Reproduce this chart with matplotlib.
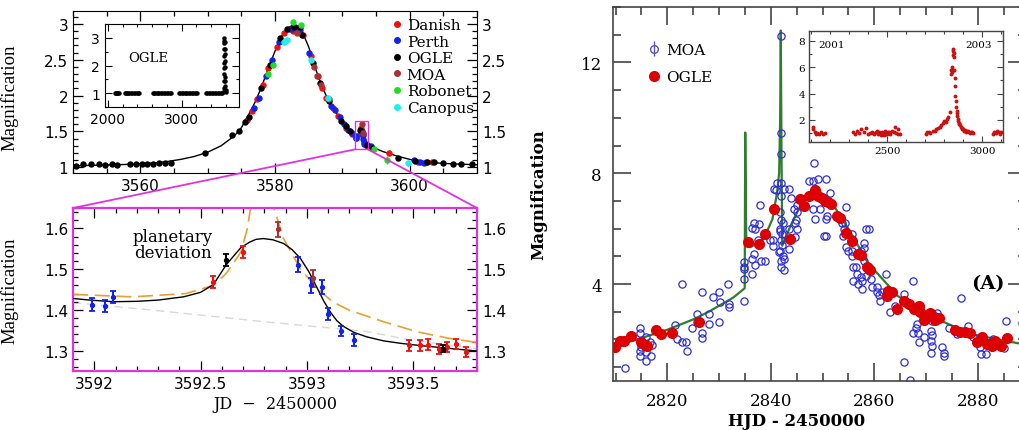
import matplotlib
matplotlib.use("Agg")
import matplotlib.pyplot as plt
from matplotlib.patches import Rectangle, ConnectionPatch
from matplotlib.lines import Line2D
from matplotlib.ticker import MultipleLocator

# ======================= DATA: left panels (JD - 2450000) =======================
danish_t = [3575.8, 3576.6, 3577.3, 3578.2, 3579.0, 3580.3, 3581.4, 3582.1, 3582.6, 3583.4,
            3584.2, 3585.4, 3586.4, 3587.0, 3587.6, 3588.6, 3589.4, 3590.6, 3591.5, 3592.56,
            3592.70, 3593.48, 3593.53, 3593.57, 3593.62, 3593.66, 3593.70, 3593.75, 3596.9,
            3601.2, 3602.4, 3603.3]
danish_A = [1.66, 1.78, 1.95, 2.15, 2.38, 2.68, 2.87, 2.93, 2.90, 2.93,
            2.85, 2.55, 2.28, 2.10, 1.97, 1.82, 1.72, 1.55, 1.46, 1.469,
            1.542, 1.313, 1.313, 1.315, 1.304, 1.309, 1.316, 1.297, 1.20,
            1.08, 1.07, 1.07]
danish_e = [0.02] * 19 + [0.015, 0.015] + [0.013] * 7 + [0.04, 0.02, 0.02, 0.02]

perth_t = [3576.9, 3577.6, 3578.6, 3579.6, 3580.6, 3582.4, 3583.0, 3583.7, 3585.1, 3588.3,
           3588.9, 3589.6, 3590.3, 3590.9, 3591.4, 3591.99, 3592.05, 3592.09, 3592.96, 3593.02,
           3593.07, 3593.10, 3593.16, 3593.22, 3594.2, 3600.6, 3601.6, 3602.2]
perth_A = [1.82, 1.97, 2.28, 2.50, 2.75, 2.93, 2.95, 2.92, 2.60, 1.86,
           1.80, 1.70, 1.60, 1.52, 1.48, 1.413, 1.410, 1.432, 1.511, 1.460,
           1.456, 1.389, 1.348, 1.326, 1.29, 1.10, 1.08, 1.06]
perth_e = [0.02] * 15 + [0.015, 0.015, 0.015, 0.018, 0.018, 0.018, 0.015, 0.012, 0.015] + [0.02] * 4

ogle_t = [3550.5, 3551.5, 3552.6, 3553.8, 3554.8, 3555.8, 3556.6, 3558.5, 3559.3, 3560.3,
          3561.0, 3561.9, 3562.7, 3563.7, 3564.6, 3569.6, 3573.6, 3574.6, 3575.6, 3576.2,
          3577.9, 3579.2, 3580.8, 3581.8, 3582.8, 3583.7, 3584.0, 3585.7, 3586.7, 3588.0,
          3589.8, 3590.5, 3591.2, 3592.62, 3593.64, 3594.4, 3598.3, 3600.8, 3602.6, 3603.6,
          3604.9, 3606.4, 3607.6, 3609.3]
ogle_A = [1.02, 1.04, 1.04, 1.04, 1.03, 1.04, 1.03, 1.04, 1.05, 1.05,
          1.05, 1.05, 1.06, 1.06, 1.06, 1.20, 1.45, 1.51, 1.63, 1.70,
          2.10, 2.42, 2.80, 2.93, 2.96, 2.95, 2.85, 2.45, 2.18, 1.92,
          1.65, 1.58, 1.50, 1.522, 1.305, 1.27, 1.13, 1.09, 1.07, 1.07,
          1.06, 1.04, 1.05, 1.04]
ogle_e = [0.01] * 33 + [0.015, 0.008] + [0.01] * 9

moa_t = [3583.2, 3585.8, 3586.3, 3586.9, 3588.0, 3592.866, 3593.03]
moa_A = [2.88, 2.40, 2.28, 2.15, 1.95, 1.598, 1.477]
moa_e = [0.03, 0.03, 0.03, 0.03, 0.04, 0.018, 0.02]

robonet_t = [3578.9, 3579.7, 3582.7, 3583.8, 3594.7, 3596.6]
robonet_A = [2.30, 2.42, 3.02, 2.98, 1.25, 1.10]
robonet_e = [0.03, 0.03, 0.03, 0.03, 0.03, 0.06]

canopus_t = [3581.4, 3581.8, 3585.4, 3587.9, 3599.8]
canopus_A = [2.75, 2.78, 2.50, 1.97, 1.06]
canopus_e = [0.05, 0.04, 0.04, 0.04, 0.04]

# planetary model (black)
model_t = [3550, 3552, 3555, 3558, 3560, 3562, 3564, 3566, 3568, 3570, 3572, 3574, 3575,
           3576, 3577, 3578, 3579, 3580, 3581, 3582, 3582.8, 3583.6, 3584, 3585, 3586,
           3587, 3588, 3589, 3590, 3591, 3591.5, 3591.9, 3591.98, 3592.09, 3592.2, 3592.3,
           3592.42, 3592.5, 3592.56, 3592.62, 3592.66, 3592.69, 3592.73, 3592.76, 3592.795,
           3592.84, 3592.89, 3592.93, 3592.97, 3593.01, 3593.05, 3593.08, 3593.11, 3593.14,
           3593.17, 3593.22, 3593.28, 3593.36, 3593.44, 3593.54, 3593.64, 3593.72, 3593.8,
           3594.5, 3595, 3596, 3597, 3598, 3600, 3602, 3604, 3607, 3610]
model_A = [1.02, 1.025, 1.03, 1.04, 1.05, 1.06, 1.08, 1.11, 1.15, 1.21, 1.30, 1.44, 1.55,
           1.72, 1.90, 2.12, 2.38, 2.62, 2.83, 2.95, 2.99, 2.96, 2.90, 2.68, 2.38,
           2.12, 1.92, 1.77, 1.63, 1.52, 1.47, 1.428, 1.424, 1.420, 1.421, 1.424,
           1.432, 1.443, 1.462, 1.510, 1.535, 1.553, 1.566, 1.573, 1.575,
           1.572, 1.563, 1.548, 1.526, 1.493, 1.452, 1.421, 1.395, 1.374,
           1.360, 1.345, 1.334, 1.324, 1.318, 1.312, 1.307, 1.303, 1.299,
           1.28, 1.26, 1.22, 1.19, 1.16, 1.11, 1.08, 1.06, 1.045, 1.035]

# alternative model (orange dashed) in the zoom
alt_t = [3591.9, 3592.18, 3592.43, 3592.56, 3592.62, 3592.69, 3592.72, 3592.75, 3592.79,
         3592.82, 3592.845, 3592.89, 3592.97, 3593.05, 3593.12, 3593.2, 3593.36, 3593.52,
         3593.67, 3593.8]
alt_A = [1.438, 1.432, 1.440, 1.460, 1.489, 1.542, 1.60, 1.70, 1.75,
         1.72, 1.65, 1.575, 1.500, 1.452, 1.420, 1.399, 1.371, 1.346,
         1.330, 1.320]

# single-lens model (light grey dashed) in the zoom
single_t = [3591.9, 3592.3, 3592.78, 3593.28, 3593.5, 3593.8]
single_A = [1.418, 1.398, 1.372, 1.347, 1.325, 1.305]

zoom_x = [3591.9, 3593.8]
zoom_y = [1.25, 1.65]

# OGLE long-term light curve (top-left inset): (JD, A)
ogle_long = [(2095, 1.0), (2105, 1.01), (2115, 0.99), (2125, 1.0), (2140, 1.02), (2155, 1.0),
             (2225, 1.0), (2240, 0.99), (2255, 1.01), (2270, 1.0), (2290, 1.0), (2310, 1.02),
             (2330, 0.99), (2350, 1.0), (2370, 1.01), (2390, 1.0), (2410, 0.99), (2425, 1.0),
             (2610, 1.0), (2625, 1.01), (2645, 1.0), (2660, 0.99), (2680, 1.0), (2700, 1.02),
             (2720, 1.0), (2740, 1.0), (2760, 0.99), (2780, 1.01), (2800, 1.0), (2820, 1.0),
             (2840, 1.01), (2855, 0.99), (2965, 1.0), (2980, 1.0), (3000, 1.01), (3020, 0.99),
             (3040, 1.0), (3060, 1.0), (3080, 1.02), (3100, 1.0), (3120, 0.99), (3140, 1.0),
             (3160, 1.01), (3180, 1.0), (3200, 1.0), (3215, 0.99), (3335, 1.0), (3350, 1.01),
             (3370, 1.0), (3390, 0.99), (3410, 1.0), (3430, 1.0), (3450, 1.02), (3470, 1.0),
             (3490, 0.99), (3510, 1.0), (3530, 1.01), (3545, 1.0), (3560, 1.05), (3570, 1.2),
             (3574, 1.45), (3576, 1.7), (3577, 1.9), (3578, 2.1), (3579, 2.35), (3580, 2.6),
             (3581, 2.8), (3582, 2.9), (3583, 2.98), (3584, 2.85), (3585, 2.6), (3586, 2.4),
             (3587, 2.15), (3588, 1.95), (3590, 1.6), (3592, 1.45), (3595, 1.25), (3600, 1.1),
             (3605, 1.05)]

legend_names = ["Danish", "Perth", "OGLE", "MOA", "Robonet", "Canopus"]
legend_colors = ["#ee1111", "#1122ee", "#000000", "#a83232", "#22dd22", "#22eeee"]

# ======================= DATA: right panel (HJD - 2450000) =======================
moa_r = [(2811.8, 0.96), (2814.7, 2.43), (2814.7, 2.23), (2814.9, 1.83), (2815.0, 1.71),
         (2814.7, 1.59), (2815.9, 1.53), (2814.7, 1.41), (2815.9, 1.23), (2816.8, 1.41),
         (2816.6, 1.89), (2815.9, 2.10), (2817.0, 1.80), (2821.5, 2.52), (2821.8, 2.00),
         (2822.8, 1.89), (2823.6, 1.89), (2823.8, 1.59), (2822.8, 4.00), (2824.8, 2.43),
         (2825.7, 2.92), (2825.7, 2.62), (2826.7, 2.25), (2826.7, 2.07), (2826.7, 3.70),
         (2828.1, 2.92), (2828.1, 2.56), (2828.8, 3.52), (2830.0, 3.70), (2830.0, 2.62),
         (2830.2, 3.34), (2831.8, 4.00), (2832.0, 3.28), (2832.0, 3.16), (2834.8, 4.18),
         (2834.9, 4.54), (2834.9, 4.78), (2834.9, 3.40), (2834.8, 4.60), (2836.4, 4.36),
         (2836.4, 4.90), (2836.7, 5.08), (2838.0, 4.84), (2836.4, 6.04), (2836.7, 6.22),
         (2837.0, 5.98), (2837.7, 6.17), (2837.0, 4.70), (2838.8, 4.83), (2837.9, 6.84),
         (2837.5, 5.60), (2840.6, 7.42), (2841.2, 7.66), (2841.9, 9.46), (2842.0, 8.68),
         (2841.9, 12.95), (2842.5, 7.42), (2841.9, 7.18), (2841.7, 6.60), (2842.0, 6.30),
         (2841.8, 6.00), (2842.1, 5.80), (2841.9, 5.60), (2842.2, 5.40), (2841.8, 5.20),
         (2842.3, 5.00), (2841.9, 4.84), (2842.6, 4.90), (2842.0, 4.60), (2842.6, 4.50),
         (2840.4, 5.38), (2839.9, 5.60), (2841.5, 5.14), (2840.4, 5.60), (2841.7, 5.92),
         (2842.4, 6.22), (2843.5, 7.42), (2843.8, 7.12), (2845.1, 6.84), (2844.5, 6.70),
         (2845.1, 6.60), (2845.1, 5.98), (2844.8, 6.30), (2843.5, 5.98), (2843.5, 5.26),
         (2844.7, 6.22), (2844.7, 5.68), (2842.0, 7.66), (2841.0, 7.40), (2848.4, 8.38),
         (2847.4, 7.72), (2848.1, 7.72), (2849.1, 7.78), (2850.7, 7.78), (2848.1, 6.72),
         (2849.4, 6.72), (2850.7, 6.34), (2850.7, 5.74), (2848.6, 6.34), (2850.3, 5.74),
         (2850.9, 6.46), (2851.5, 7.30), (2854.6, 6.78), (2854.3, 6.22), (2854.0, 5.74),
         (2854.6, 5.32), (2854.9, 5.20), (2853.8, 6.22), (2854.1, 6.00), (2855.7, 5.80),
         (2855.7, 5.62), (2855.7, 5.20), (2855.6, 5.02), (2856.4, 4.60), (2856.6, 4.36),
         (2858.0, 5.30), (2858.0, 4.84), (2858.9, 6.00), (2858.9, 4.60), (2858.3, 4.30),
         (2858.0, 5.48), (2857.4, 5.20), (2857.7, 5.00), (2858.4, 5.98), (2855.8, 4.60),
         (2857.4, 4.24), (2857.7, 4.12), (2855.8, 4.12), (2856.8, 4.00), (2857.7, 3.82),
         (2859.3, 4.18), (2859.6, 3.88), (2860.6, 3.88), (2860.6, 3.70), (2860.9, 3.60),
         (2862.3, 4.38), (2861.1, 3.39), (2861.4, 3.70), (2867.4, 4.12), (2865.8, 3.64),
         (2866.3, 3.28), (2868.3, 2.56), (2868.0, 2.40), (2867.4, 2.25), (2868.4, 2.25),
         (2868.7, 1.89), (2870.9, 2.85), (2871.2, 2.95), (2871.8, 2.85), (2872.1, 2.95),
         (2871.2, 2.67), (2870.9, 2.30), (2871.2, 2.15), (2870.9, 1.95), (2871.2, 1.78),
         (2873.1, 1.71), (2873.4, 1.50), (2873.4, 1.40), (2871.0, 1.50), (2865.8, 1.17),
         (2866.9, 0.55), (2876.8, 3.50), (2880.7, 1.47), (2881.6, 1.47), (2880.4, 1.71),
         (2885.4, 2.67), (2882.5, 1.90), (2883.0, 2.00), (2885.0, 1.70), (2863.0, 3.00),
         (2864.0, 3.20), (2869.5, 2.10), (2874.5, 2.40), (2876.0, 2.20), (2878.0, 2.50),
         (2879.0, 2.10), (2888.5, 2.60)]

ogle_r = [(2809.9, 1.71), (2810.8, 1.95), (2811.6, 1.95), (2812.9, 2.13), (2814.9, 1.89),
          (2815.6, 1.80), (2816.1, 1.77), (2817.9, 2.34), (2818.8, 2.19), (2820.9, 2.25),
          (2826.1, 2.64), (2835.6, 5.50), (2837.7, 5.44), (2838.8, 5.80), (2840.7, 6.72),
          (2843.7, 5.62), (2845.7, 7.06), (2846.5, 6.82), (2847.3, 7.16), (2848.6, 7.40),
          (2849.2, 7.18), (2849.8, 7.10), (2850.4, 7.00), (2851.0, 6.95), (2851.6, 6.88),
          (2852.8, 6.46), (2853.4, 6.40), (2854.6, 5.84), (2855.7, 5.54), (2856.8, 5.10),
          (2857.4, 5.04), (2858.5, 4.62), (2859.2, 4.50), (2862.4, 3.58), (2862.7, 3.76),
          (2863.4, 3.70), (2864.4, 3.10), (2865.7, 3.40), (2866.6, 3.28), (2867.6, 3.10),
          (2868.6, 3.22), (2868.9, 3.00), (2869.6, 2.70), (2870.7, 2.95), (2871.8, 2.70),
          (2872.4, 2.76), (2875.6, 2.34), (2876.6, 2.28), (2877.6, 2.28), (2878.5, 2.22),
          (2879.8, 1.92), (2880.8, 2.10), (2881.8, 1.84), (2882.8, 1.78), (2883.4, 1.95),
          (2884.4, 1.78), (2885.6, 2.07)]

model_r = [(2809.5, 1.75), (2812, 1.88), (2815, 2.05), (2817.3, 2.19), (2820, 2.35),
           (2825.1, 2.73), (2828, 3.00), (2832.8, 3.52), (2834.95, 3.85), (2835.05, 9.47),
           (2835.25, 5.50), (2836.05, 5.33), (2838.6, 5.62), (2840.3, 6.34), (2841.2, 7.30),
           (2841.6, 8.00), (2841.8, 10.0), (2841.92, 13.15), (2842.05, 9.0), (2842.2, 5.38),
           (2843.8, 6.10), (2845.7, 6.82), (2848.3, 7.42), (2852.2, 6.82), (2855.4, 5.86),
           (2858.7, 4.78), (2864.5, 3.57), (2872.2, 2.73), (2878.7, 2.19), (2889.5, 1.80)]

# OGLE multi-season light curve (right inset)
ogle_seasons = [(2108, 1.45), (2112, 1.30), (2118, 1.10), (2125, 0.95), (2130, 1.00), (2140, 0.90),
                (2150, 1.05), (2165, 0.95), (2175, 1.00),
                (2320, 1.10), (2330, 0.90), (2340, 1.20), (2350, 1.00), (2365, 1.30), (2378, 1.05),
                (2390, 1.40), (2400, 0.95), (2410, 1.00), (2420, 1.10), (2425, 1.00), (2430, 0.90),
                (2440, 1.05), (2445, 1.20), (2450, 0.95), (2460, 1.10), (2470, 0.85), (2475, 1.05),
                (2480, 1.00), (2485, 0.85), (2490, 1.15), (2495, 0.95), (2500, 0.90), (2505, 1.05),
                (2512, 1.10), (2515, 0.95), (2525, 1.20), (2535, 1.10), (2540, 1.45), (2548, 1.00),
                (2555, 1.30), (2560, 0.90), (2570, 0.95),
                (2705, 0.95), (2712, 1.05), (2720, 1.10), (2728, 1.00), (2740, 1.20), (2752, 1.15),
                (2760, 1.30), (2770, 1.40), (2778, 1.50), (2785, 1.60), (2793, 1.80), (2800, 1.90),
                (2808, 1.85), (2815, 2.10), (2822, 2.20), (2830, 2.60), (2836, 5.50), (2838, 5.80),
                (2840, 6.00), (2842, 5.60), (2845, 6.90), (2847, 7.20), (2849, 7.40), (2850, 7.10),
                (2852, 6.80), (2854, 5.80), (2856, 5.20), (2858, 4.60), (2860, 3.80), (2862, 3.40),
                (2864, 3.00), (2866, 2.70), (2868, 2.50), (2870, 2.30), (2872, 2.10), (2875, 1.90),
                (2878, 1.70), (2881, 1.80), (2884, 1.60), (2888, 1.50), (2892, 1.40), (2896, 1.30),
                (2900, 1.35), (2905, 1.20), (2910, 1.25), (2915, 1.10), (2920, 1.15), (2925, 1.20),
                (2930, 1.10), (2935, 1.00), (2940, 1.05), (2945, 1.10), (2950, 1.00),
                (3058, 0.90), (3065, 1.10), (3072, 1.00), (3080, 1.20), (3088, 1.05), (3095, 0.95),
                (3100, 1.10)]

# ======================= FIGURE =======================
W, H = 1020, 431
fig = plt.figure(figsize=(W / 100, H / 100), dpi=100)
MAG = "#e033e0"
SANS = "DejaVu Sans"
SERIF = "DejaVu Serif"


def ax_px(l, t, r, b):
    return fig.add_axes([l / W, 1 - b / H, (r - l) / W, (b - t) / H])


def style_left(ax, fs=11):
    ax.tick_params(which="both", direction="in", top=True, right=True, width=0.9, labelsize=fs)
    ax.tick_params(which="major", length=7)
    ax.tick_params(which="minor", length=3.5)
    for lab in ax.get_xticklabels() + ax.get_yticklabels():
        lab.set_family(SANS)


series = [(danish_t, danish_A, danish_e), (perth_t, perth_A, perth_e), (ogle_t, ogle_A, ogle_e),
          (moa_t, moa_A, moa_e), (robonet_t, robonet_A, robonet_e), (canopus_t, canopus_A, canopus_e)]

# ---------- top-left main ----------
ax1 = ax_px(73, 12, 477, 174)
ax1.plot(model_t, model_A, color="black", lw=1.0, zorder=2)
for (t, a, e), c in zip(series, legend_colors):
    ax1.errorbar(t, a, yerr=e, fmt="o", ms=3.6, color=c, ecolor=c, elinewidth=1.0, capsize=0, zorder=3)
ax1.set_xlim(3550, 3610)
ax1.set_ylim(0.92, 3.18)
ax1.xaxis.set_major_locator(MultipleLocator(20))
ax1.xaxis.set_minor_locator(MultipleLocator(5))
ax1.yaxis.set_major_locator(MultipleLocator(0.5))
ax1.yaxis.set_minor_locator(MultipleLocator(0.1))
ax1.yaxis.set_major_formatter(plt.FuncFormatter(lambda v, p: f"{v:g}"))
ax1.tick_params(labelright=True)
style_left(ax1)
ax1.set_ylabel("Magnification", family="Liberation Serif", fontsize=13.5)
ax1.yaxis.set_label_coords(-55 / 404, 0.47)
ax1.add_patch(Rectangle((zoom_x[0], zoom_y[0]), zoom_x[1] - zoom_x[0], zoom_y[1] - zoom_y[0],
                        fill=False, ec=MAG, lw=1.0, zorder=4))
handles = [Line2D([], [], ls="none", marker="o", ms=4, color=c) for c in legend_colors]
ax1.legend(handles, legend_names, loc="upper left", bbox_to_anchor=(0.775, 0.995), frameon=False,
           handlelength=0.6, handletextpad=0.35, labelspacing=0.17, borderaxespad=0,
           prop={"family": SERIF, "size": 11})

# ---------- top-left inset ----------
axi = ax_px(105, 25, 239, 108)
oin_t = [p[0] for p in ogle_long]
oin_A = [p[1] for p in ogle_long]
axi.plot(oin_t, oin_A, "o", ms=2.2, color="black")
axi.set_xlim(1960, 3780)
axi.set_ylim(0.5, 3.5)
axi.xaxis.set_major_locator(MultipleLocator(1000))
axi.xaxis.set_minor_locator(MultipleLocator(200))
axi.yaxis.set_major_locator(MultipleLocator(1))
axi.yaxis.set_minor_locator(MultipleLocator(0.5))
axi.tick_params(which="both", direction="in", top=True, right=True, width=0.8, labelsize=10)
axi.tick_params(which="major", length=5)
axi.tick_params(which="minor", length=2.5)
for lab in axi.get_xticklabels() + axi.get_yticklabels():
    lab.set_family(SANS)
axi.text(0.17, 0.6, "OGLE", transform=axi.transAxes, family=SERIF, fontsize=9.5, va="center")

# ---------- bottom-left zoom ----------
ax2 = ax_px(73, 209, 477, 372)
ax2.plot(single_t, single_A, color="#d8d8d8", lw=1.0, ls=(0, (6, 4)), zorder=1)
ax2.plot(alt_t, alt_A, color="#e8a030", lw=1.2, ls=(0, (9, 4)), zorder=2)
ax2.plot(model_t, model_A, color="black", lw=1.0, zorder=3)
for (t, a, e), c in zip(series, legend_colors):
    ax2.errorbar(t, a, yerr=e, fmt="o", ms=2.8, color=c, ecolor=c, elinewidth=1.5,
                 capsize=2.5, capthick=1.3, zorder=4)
ax2.set_xlim(*zoom_x)
ax2.set_ylim(*zoom_y)
ax2.xaxis.set_major_locator(MultipleLocator(0.5))
ax2.xaxis.set_minor_locator(MultipleLocator(0.1))
ax2.yaxis.set_major_locator(MultipleLocator(0.1))
ax2.yaxis.set_minor_locator(MultipleLocator(0.02))
ax2.xaxis.set_major_formatter(plt.FuncFormatter(lambda v, p: f"{v:g}"))
ax2.yaxis.set_major_formatter(plt.FuncFormatter(lambda v, p: f"{v:.1f}"))
ax2.tick_params(labelright=True)
style_left(ax2)
for s in ax2.spines.values():
    s.set_color(MAG)
    s.set_linewidth(1.6)
ax2.set_ylabel("Magnification", family="Liberation Serif", fontsize=13.5)
ax2.yaxis.set_label_coords(-55 / 404, 0.5)
ax2.set_xlabel("JD  \u2212  2450000", family=SERIF, fontsize=11.5, labelpad=3)
ax2.text(0.2475, 0.776, "planetary\ndeviation", transform=ax2.transAxes, ha="center", va="center",
         family=SERIF, fontsize=12, linespacing=0.95)

for xa, xb in [(zoom_x[0], 0), (zoom_x[1], 1)]:
    con = ConnectionPatch(xyA=(xa, zoom_y[0]), coordsA=ax1.transData,
                          xyB=(xb, 1), coordsB=ax2.transAxes, color=MAG, lw=1.3, zorder=10)
    fig.add_artist(con)

# ---------- right main ----------
GRAY = "#444444"
ax3 = ax_px(613, 8, 1026, 382)
ax3.plot([p[0] for p in model_r], [p[1] for p in model_r], color="#2f7d2f", lw=1.6, zorder=2)
ax3.plot([p[0] for p in moa_r], [p[1] for p in moa_r], ls="none", marker="o", ms=5.2,
         mfc="none", mec="#2f2fd0", mew=0.9, zorder=3)
ax3.plot([p[0] for p in ogle_r], [p[1] for p in ogle_r], ls="none", marker="o", ms=7,
         color="#dd0000", zorder=4)
ax3.set_xlim(2809.5, 2889.3)
ax3.set_ylim(0.5, 14.0)
ax3.xaxis.set_major_locator(MultipleLocator(20))
ax3.xaxis.set_minor_locator(MultipleLocator(5))
ax3.yaxis.set_major_locator(MultipleLocator(4))
ax3.yaxis.set_minor_locator(MultipleLocator(1))
ax3.tick_params(which="both", direction="in", top=True, right=True, color=GRAY, width=1.2,
                labelsize=12, pad=8)
ax3.tick_params(which="major", length=13)
ax3.tick_params(which="minor", length=6)
for lab in ax3.get_xticklabels() + ax3.get_yticklabels():
    lab.set_family(SERIF)
for s in ax3.spines.values():
    s.set_color(GRAY)
    s.set_linewidth(1.2)
ax3.set_xlabel("HJD - 2450000", family=SERIF, fontsize=12, fontweight="bold")
ax3.xaxis.set_label_coords(0.445, -0.083)
ax3.set_ylabel("Magnification", family=SERIF, fontsize=12, fontweight="bold")
ax3.yaxis.set_label_coords(-0.158, 0.5)
moa_h = ax3.errorbar([], [], yerr=[], fmt="o", ms=5.5, mfc="none", mec="#5555bb", ecolor="#5555bb",
                     elinewidth=1.0, capsize=3)
ogle_h = Line2D([], [], ls="none", marker="o", ms=7, color="#dd0000")
ax3.legend([moa_h, ogle_h], ["MOA", "OGLE"], loc="upper left", bbox_to_anchor=(0.065, 0.92),
           frameon=False, handlelength=1.0, handletextpad=0.3, labelspacing=0.85, borderaxespad=0,
           prop={"family": SERIF, "size": 11})
ax3.text(0.908, 0.262, "(A)", transform=ax3.transAxes, ha="center", va="center", family=SERIF,
         fontsize=14, fontweight="bold")

# ---------- right inset ----------
ax4 = ax_px(809, 32, 1003, 143)
ax4.plot([p[0] for p in ogle_seasons], [p[1] for p in ogle_seasons], ls="none", marker="o",
         ms=1.8, color="#cc1111")
ax4.set_xlim(2089, 3110)
ax4.set_ylim(0.33, 8.73)
ax4.xaxis.set_major_locator(MultipleLocator(500))
ax4.xaxis.set_minor_locator(MultipleLocator(100))
ax4.yaxis.set_major_locator(MultipleLocator(2))
ax4.yaxis.set_minor_locator(MultipleLocator(1))
ax4.tick_params(which="both", direction="in", top=True, right=True, color=GRAY, width=0.8,
                labelsize=7.5, pad=3)
ax4.tick_params(which="major", length=4)
ax4.tick_params(which="minor", length=2)
for lab in ax4.get_xticklabels() + ax4.get_yticklabels():
    lab.set_family(SERIF)
for s in ax4.spines.values():
    s.set_color(GRAY)
    s.set_linewidth(1.0)
ax4.text(0.05, 0.875, "2001", transform=ax4.transAxes, family=SERIF, fontsize=7.5, va="center")
ax4.text(0.94, 0.875, "2003", transform=ax4.transAxes, family=SERIF, fontsize=7.5, va="center",
         ha="right")

fig.savefig("out.png", dpi=100)
